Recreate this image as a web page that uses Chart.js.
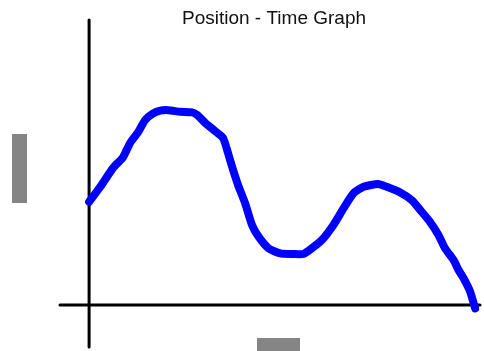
<!DOCTYPE html>
<html>
<head>
<meta charset="utf-8">
<script src="https://cdn.jsdelivr.net/npm/chart.js@4"></script>
<style>
  html, body { margin: 0; padding: 0; background: #fff; }
  canvas { display: block; }
</style>
</head>
<body>
<canvas id="ptChart" width="484" height="351"></canvas>
<script>
// time (s) and position
const times = [0, 0.29, 0.62, 0.88, 1.06, 1.27, 1.45, 1.63, 1.84, 2.05, 2.36, 2.67, 2.8, 3.01, 3.26, 3.47,
  3.6, 3.73, 3.86, 4.04, 4.22, 4.39, 4.65, 4.95, 5.29, 5.55, 5.77, 6.03, 6.33, 6.59, 6.85, 7.11, 7.49,
  7.71, 8.06, 8.36, 8.58, 8.83, 9.05, 9.22, 9.44, 9.57, 9.7, 9.87, 10];
const positions = [3.62, 4.15, 4.81, 5.19, 5.68, 6.07, 6.49, 6.7, 6.82, 6.84, 6.78, 6.76, 6.67, 6.39, 6.11, 5.86,
  5.33, 4.74, 4.21, 3.58, 2.81, 2.4, 1.99, 1.81, 1.79, 1.79, 1.99, 2.28, 2.81, 3.39, 3.92, 4.15, 4.25,
  4.15, 3.95, 3.68, 3.33, 2.92, 2.46, 1.99, 1.58, 1.23, 0.94, 0.47, -0.12];

const chartTitle = 'Position - Time Graph';

// axes drawn as plain crossing lines plus grey blocks where the axis labels sit
const axesPlugin = {
  id: 'axesLines',
  beforeDatasetsDraw(chart) {
    const { ctx, scales } = chart;
    const x0 = scales.x.getPixelForValue(0);
    const y0 = scales.y.getPixelForValue(0);
    ctx.save();
    ctx.strokeStyle = '#000';
    ctx.lineWidth = 3;
    ctx.lineCap = 'round';
    ctx.beginPath();
    ctx.moveTo(x0, 20);
    ctx.lineTo(x0, 347);
    ctx.moveTo(60, y0);
    ctx.lineTo(480, y0);
    ctx.stroke();
    ctx.fillStyle = '#858585';
    ctx.fillRect(12, 134, 15, 69);
    ctx.fillRect(257, 338, 43, 13);
    ctx.restore();
  }
};

const ctx = document.getElementById('ptChart').getContext('2d');
new Chart(ctx, {
  type: 'line',
  data: {
    datasets: [{
      data: times.map((t, i) => ({ x: t, y: positions[i] })),
      borderColor: '#0000ff',
      borderWidth: 8,
      borderCapStyle: 'round',
      borderJoinStyle: 'round',
      pointRadius: 0,
      tension: 0.2,
      fill: false,
      clip: false
    }]
  },
  options: {
    responsive: false,
    animation: false,
    layout: { padding: { left: 64, right: 0, top: 0, bottom: 46 } },
    plugins: {
      legend: { display: false },
      tooltip: { enabled: false },
      title: {
        display: true,
        text: chartTitle,
        fullSize: false,
        color: '#111',
        font: { family: 'Liberation Sans, Arial, sans-serif', size: 19, weight: 'normal' },
        padding: { top: 7, bottom: 0 }
      }
    },
    scales: {
      x: { type: 'linear', display: false, min: -0.65, max: 10.23 },
      y: { display: false, min: 0, max: 9.66 }
    }
  },
  plugins: [axesPlugin]
});
</script>
</body>
</html>
